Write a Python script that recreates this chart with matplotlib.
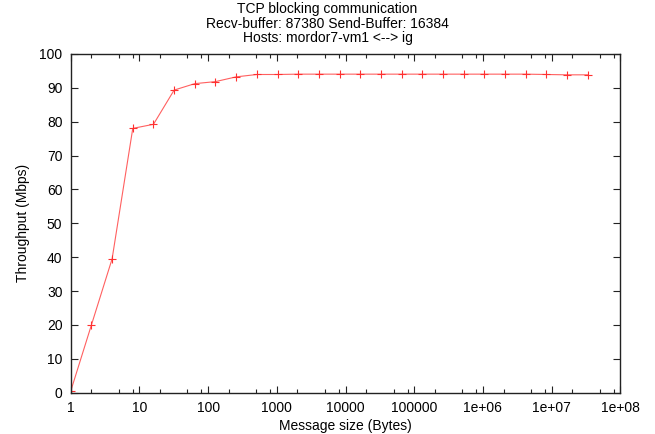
import numpy as np
import matplotlib
matplotlib.use("Agg")
import matplotlib.pyplot as plt
from matplotlib.ticker import FixedLocator, FixedFormatter, NullFormatter

# ===================== data =====================
msg_size = [2 ** i for i in range(26)]  # 1 .. 33554432 bytes
throughput = [0.5, 20.0, 39.5, 78.0, 79.2, 89.3, 91.2, 91.8, 93.2, 93.9,
              93.9, 94.0, 94.0, 94.0, 94.0, 94.0, 94.0, 94.0, 94.0, 94.0,
              94.0, 94.0, 94.0, 93.9, 93.8, 93.8]

xtick_vals = [1, 10, 100, 1000, 10000, 100000, 1e6, 1e7, 1e8]
xtick_labels = ["1", "10", "100", "1000", "10000", "100000", "1e+06", "1e+07", "1e+08"]
ytick_vals = list(range(0, 101, 10))

title_lines = ["TCP blocking communication",
               "Recv-buffer: 87380 Send-Buffer: 16384",
               "Hosts: mordor7-vm1 <--> ig"]

# ===================== plot =====================
plt.rcParams["font.family"] = ["Liberation Sans", "DejaVu Sans"]
plt.rcParams["font.size"] = 10

fig = plt.figure(figsize=(6.55, 4.34), dpi=100)
ax = fig.add_axes([0.108, 0.095, 0.839, 0.781])

ax.plot(msg_size, throughput, color="#ff6060", lw=0.8,
        marker="+", ms=6, mew=0.8, mec="#ff3030")

ax.set_xscale("log")
ax.set_xlim(1, 1e8)
ax.set_ylim(0, 100)

ax.xaxis.set_major_locator(FixedLocator(xtick_vals))
ax.xaxis.set_major_formatter(FixedFormatter(xtick_labels))
minor = [d * m for d in xtick_vals[:-1] for m in (2, 5, 8)]
ax.xaxis.set_minor_locator(FixedLocator(minor))
ax.xaxis.set_minor_formatter(NullFormatter())
ax.set_yticks(ytick_vals)

ax.tick_params(which="both", direction="in", top=True, right=True,
               colors="#222222", labelcolor="black", labelsize=10)
ax.tick_params(which="major", length=5, width=0.8, pad=6)
ax.tick_params(which="minor", length=3, width=0.8)
for s in ax.spines.values():
    s.set_linewidth(1.0)
    s.set_color("#222222")

ax.set_xlabel("Message size (Bytes)", labelpad=3)
ax.set_ylabel("Throughput (Mbps)", labelpad=7)

for i, t in enumerate(title_lines):
    fig.text(0.5, 1 - (9 + 14.5 * i) / 434, t, ha="center", va="center", fontsize=10)

fig.savefig("out.png", dpi=100)
plt.close(fig)
